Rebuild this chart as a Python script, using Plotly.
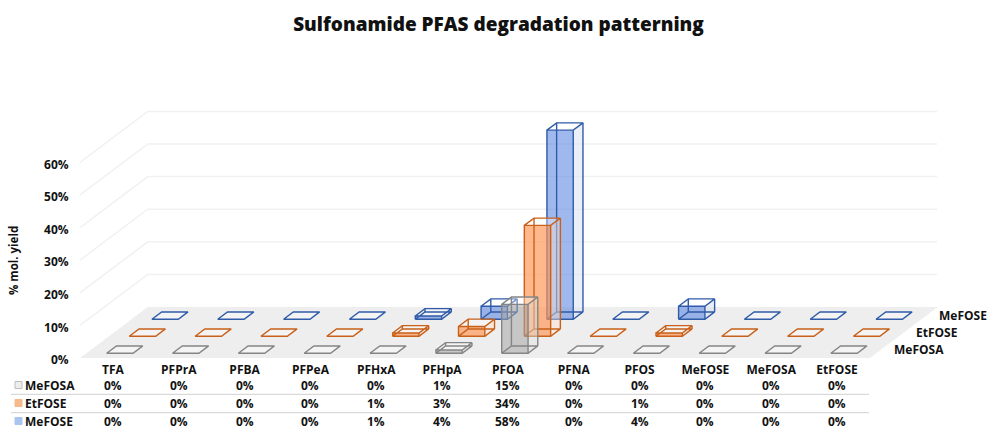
import plotly.graph_objects as go

categories = ["TFA", "PFPrA", "PFBA", "PFPeA", "PFHxA", "PFHpA", "PFOA", "PFNA", "PFOS", "MeFOSE", "MeFOSA", "EtFOSE"]
series_names = ["MeFOSA", "EtFOSE", "MeFOSE"]
mefosa = [0, 0, 0, 0, 0, 1, 15, 0, 0, 0, 0, 0]
etfose = [0, 0, 0, 0, 1, 3, 34, 0, 1, 0, 0, 0]
mefose = [0, 0, 0, 0, 1, 4, 58, 0, 4, 0, 0, 0]
y_ticks = [0, 10, 20, 30, 40, 50, 60]
title_text = "Sulfonamide PFAS degradation patterning"
y_title = "% mol. yield"

series_values = [mefosa, etfose, mefose]
edge_colors = ["#858585", "#C8601A", "#2F5BA8"]
front_fills = ["rgba(165,165,165,0.55)", "rgba(255,150,85,0.68)", "rgba(90,135,225,0.58)"]
side_fills = ["rgba(225,225,225,0.45)", "rgba(250,225,205,0.45)", "rgba(215,224,240,0.5)"]
top_fills = ["rgba(255,255,255,0.35)", "rgba(255,255,255,0.35)", "rgba(255,255,255,0.35)"]
key_fills = ["#EDEDED", "#F7B98B", "#A9C4F0"]
key_lines = ["#BDBDBD", "#F7B98B", "#A9C4F0"]

W, H = 1000, 442
L, R, T, B = 80, 937, 110, 358
CAT_PX = 65.83
UNIT_PX = 3.26
SX = 22.6 / CAT_PX      # category units per series of depth
SY = 17.0 / UNIT_PX     # percent units per series of depth
n_cat, n_ser = len(categories), len(series_names)
x_max = (R - L) / CAT_PX
y_max = (B - T) / UNIT_PX


def P(x, d, v):
    return x + d * SX, v + d * SY


def px_x(px):
    return (px - L) / (R - L)


def px_y(py):
    return (B - py) / (B - T)


def poly(points, **kw):
    xs = [p[0] for p in points]
    ys = [p[1] for p in points]
    return go.Scatter(x=xs, y=ys, mode="lines", showlegend=False, hoverinfo="skip", **kw)


FONT = "'Open Sans', sans-serif"
fig = go.Figure()

# gridlines on the walls
for t in y_ticks[1:]:
    pts = [P(0, 0, t), P(0, n_ser, t), P(n_cat, n_ser, t)]
    fig.add_trace(poly(pts, line=dict(color="#F1F1F1", width=1.5)))

# floor
floor = [P(0, 0, 0), P(n_cat, 0, 0), P(n_cat, n_ser, 0), P(0, n_ser, 0), P(0, 0, 0)]
fig.add_trace(poly(floor, fill="toself", fillcolor="#EEEEEE", line=dict(color="#EEEEEE", width=0)))

# bars, back row first
for k in reversed(range(n_ser)):
    for i, v in enumerate(series_values[k]):
        x0, x1 = i + 0.31, i + 0.71
        d0, d1 = k + 0.28, k + 0.71
        a, b, c, e = P(x0, d0, 0), P(x1, d0, 0), P(x1, d1, 0), P(x0, d1, 0)
        a2, b2, c2, e2 = P(x0, d0, v), P(x1, d0, v), P(x1, d1, v), P(x0, d1, v)
        if v > 0:
            fig.add_trace(poly([b, c, c2, b2, b], fill="toself", fillcolor=side_fills[k], line=dict(width=0)))
            fig.add_trace(poly([a, b, b2, a2, a], fill="toself", fillcolor=front_fills[k], line=dict(width=0)))
        fig.add_trace(poly([a2, b2, c2, e2, a2], fill="toself", fillcolor=top_fills[k], line=dict(width=0)))
        wire = [a, b, c, e, a, a2, b2, c2, e2, a2, None, b, b2, None, c, c2, None, e, e2]
        xs = [p[0] if p else None for p in wire]
        ys = [p[1] if p else None for p in wire]
        fig.add_trace(go.Scatter(x=xs, y=ys, mode="lines", showlegend=False, hoverinfo="skip",
                                 line=dict(color=edge_colors[k], width=1.4)))

annotations = []
shapes = []
tick_font = dict(family=FONT, size=12, color="#111111", weight=700)

# y axis title
annotations.append(dict(x=px_x(13), y=px_y(261), xref="paper", yref="paper", text=y_title, textangle=-90,
                        showarrow=False, xanchor="center", yanchor="middle",
                        font=dict(family=FONT, size=11.5, color="#111111", weight=700)))

# series labels on the depth axis
for k, name in enumerate(series_names):
    lx, ly = P(n_cat, k + 0.5, 0)
    annotations.append(dict(x=(lx + 0.16) / x_max, y=ly / y_max, xref="paper", yref="paper", text=name,
                            showarrow=False, xanchor="left", yanchor="middle", font=tick_font))

# data table
row_py = [385, 403, 421]
for k, name in enumerate(series_names):
    annotations.append(dict(x=px_x(22.5), y=px_y(row_py[k]), xref="paper", yref="paper", text=name,
                            showarrow=False, xanchor="left", yanchor="middle", font=tick_font))
    for i, v in enumerate(series_values[k]):
        annotations.append(dict(x=i + 0.5, y=px_y(row_py[k]), xref="x", yref="paper", text=f"{v}%",
                                showarrow=False, xanchor="center", yanchor="middle", font=tick_font))
    shapes.append(dict(type="rect", xref="paper", yref="paper",
                       x0=px_x(15), x1=px_x(22), y0=px_y(row_py[k] + 3.5), y1=px_y(row_py[k] - 3.5),
                       fillcolor=key_fills[k], line=dict(color=key_lines[k], width=1)))
for py in [394.3, 412.7]:
    shapes.append(dict(type="line", xref="paper", yref="paper", x0=px_x(11), x1=px_x(869),
                       y0=px_y(py), y1=px_y(py), line=dict(color="#D9D9D9", width=1.2)))

fig.update_layout(
    width=W, height=H, autosize=False,
    margin=dict(l=L, r=W - R, t=T, b=H - B, pad=0),
    paper_bgcolor="white", plot_bgcolor="white", showlegend=False,
    title=dict(text=title_text, x=0.4985, xanchor="center", y=0.945, yanchor="middle",
               font=dict(family=FONT, size=19, color="#111111", weight=800)),
    xaxis=dict(range=[0, x_max], tickmode="array", tickvals=[i + 0.5 for i in range(n_cat)],
               ticktext=categories, showgrid=False, zeroline=False, showline=False,
               ticks="outside", ticklen=1, tickcolor="rgba(0,0,0,0)", tickfont=tick_font,
               fixedrange=True),
    yaxis=dict(range=[0, y_max], tickmode="array", tickvals=y_ticks, ticktext=[f"{t}%" for t in y_ticks],
               showgrid=False, zeroline=False, showline=False, ticks="outside", ticklen=8,
               ticklabelshift=2,
               tickcolor="rgba(0,0,0,0)", tickfont=tick_font, fixedrange=True),
    annotations=annotations, shapes=shapes,
)

fig.write_html("out.html", post_script="document.body.style.margin='0';", config={"displayModeBar": False})
